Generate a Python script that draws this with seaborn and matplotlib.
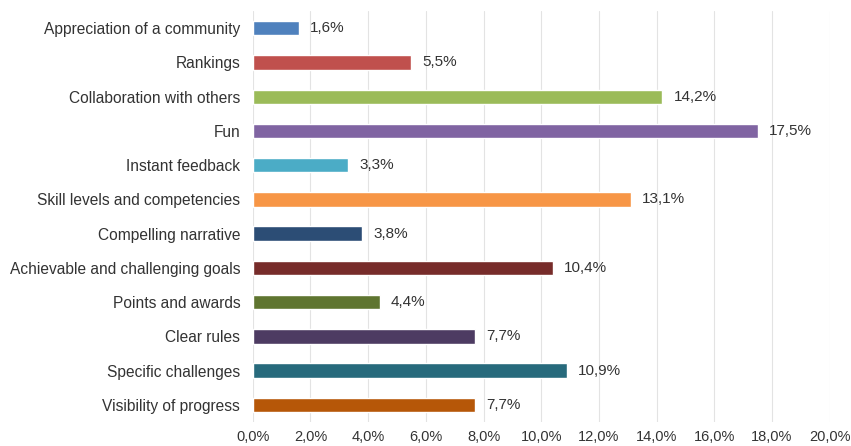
import matplotlib
matplotlib.use("Agg")
import matplotlib.pyplot as plt
import seaborn as sns
import pandas as pd
from matplotlib.ticker import FuncFormatter

categories = [
    "Appreciation of a community",
    "Rankings",
    "Collaboration with others",
    "Fun",
    "Instant feedback",
    "Skill levels and competencies",
    "Compelling narrative",
    "Achievable and challenging goals",
    "Points and awards",
    "Clear rules",
    "Specific challenges",
    "Visibility of progress",
]
values = [1.6, 5.5, 14.2, 17.5, 3.3, 13.1, 3.8, 10.4, 4.4, 7.7, 10.9, 7.7]
colors = [
    "#4F81BD", "#C0504D", "#9BBB59", "#8064A2", "#4BACC6", "#F79646",
    "#2C4D75", "#772C2A", "#5F7530", "#4D3B62", "#276A7C", "#B65708",
]
x_ticks = [0, 2, 4, 6, 8, 10, 12, 14, 16, 18, 20]

sns.set_theme(style="white")
plt.rcParams["font.family"] = ["Liberation Sans", "DejaVu Sans"]

df = pd.DataFrame({"category": categories, "value": values})

fig = plt.figure(figsize=(8.51, 4.46), dpi=100)
ax = fig.add_axes([0.297, 0.054, 0.678, 0.921])

sns.barplot(data=df, x="value", y="category", hue="category",
            palette=colors, legend=False, width=0.42, ax=ax,
            saturation=1, zorder=3)

ax.set_xlim(0, 20)
ax.set_ylim(len(categories) - 0.5, -0.5)
ax.set_xticks(x_ticks)
ax.xaxis.set_major_formatter(FuncFormatter(lambda v, p: f"{v:.1f}%".replace(".", ",")))
ax.grid(axis="x", color="#E3E3E3", linewidth=0.8, zorder=0)
ax.grid(axis="y", visible=False)
for s in ax.spines.values():
    s.set_visible(False)
ax.set_xlabel("")
ax.set_ylabel("")
ax.tick_params(axis="both", length=0, colors="#333333")
ax.tick_params(axis="y", pad=9, labelsize=11.2)
ax.tick_params(axis="x", pad=6, labelsize=10.5)

for i, v in enumerate(values):
    ax.annotate(f"{v:.1f}%".replace(".", ","), xy=(v, i), xytext=(8, 0),
                textcoords="offset points", va="center", ha="left",
                fontsize=11, color="#333333")

fig.savefig("out.png", dpi=100)
